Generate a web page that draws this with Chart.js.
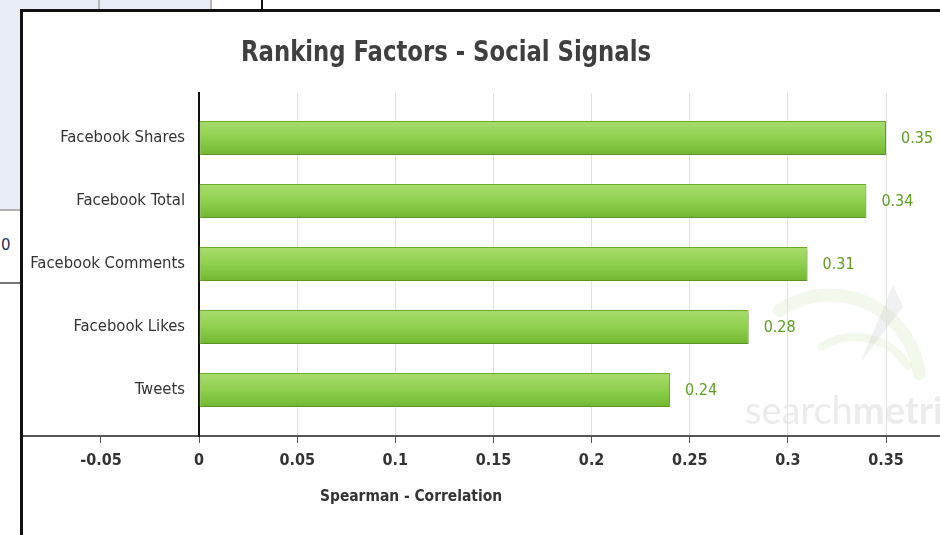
<!DOCTYPE html>
<html>
<head>
<meta charset="utf-8">
<script src="https://cdn.jsdelivr.net/npm/chart.js@4/dist/chart.umd.min.js"></script>
<style>
  body { margin: 0; width: 940px; height: 535px; position: relative; overflow: hidden; background: #fff; }
  .bg { position: absolute; }
  #frame { position: absolute; left: 20px; top: 9px; width: 930px; height: 540px; border-left: 3px solid #111; border-top: 3px solid #111; }
  #wrap { position: absolute; left: 23px; top: 12px; width: 917px; height: 523px; }
</style>
</head>
<body>
<!-- bits of the page behind the screenshot -->
<div class="bg" style="left:0;top:0;width:211px;height:9px;background:#e9edf5"></div>
<div class="bg" style="left:98px;top:0;width:2px;height:9px;background:#b8b8b8"></div>
<div class="bg" style="left:210px;top:0;width:2px;height:9px;background:#b8b8b8"></div>
<div class="bg" style="left:261px;top:0;width:2px;height:9px;background:#111"></div>
<div class="bg" style="left:0;top:0;width:20px;height:210px;background:#e9edf5"></div>
<div class="bg" style="left:0;top:209px;width:20px;height:2px;background:#b0b0b0"></div>
<div class="bg" style="left:1px;top:236px;font:15px 'DejaVu Sans';color:#2a3050">0</div>
<div class="bg" style="left:0;top:282px;width:20px;height:2px;background:#777"></div>
<div id="frame"></div>
<div id="wrap"><canvas id="chart"></canvas></div>
<script>
const categories = ['Facebook Shares', 'Facebook Total', 'Facebook Comments', 'Facebook Likes', 'Tweets'];
const correlation = [0.35, 0.34, 0.31, 0.28, 0.24];
const xTicks = [-0.05, 0, 0.05, 0.1, 0.15, 0.2, 0.25, 0.3, 0.35];

const titleText = 'Ranking Factors - Social Signals';
const xTitleText = 'Spearman - Correlation';

function barFill(c) {
  let y = c.chart.scales.y;
  let mid = y ? y.getPixelForValue(c.dataIndex) : NaN;
  if (!isFinite(mid)) return '#8fd04f';
  let g = c.chart.ctx.createLinearGradient(0, mid - 17, 0, mid + 17);
  g.addColorStop(0, '#a8dd6c');
  g.addColorStop(0.5, '#8fd04f');
  g.addColorStop(1, '#72b730');
  return g;
}

const extras = {
  id: 'extras',
  beforeDraw(chart) {
    let ctx = chart.ctx;
    ctx.save();
    // searchmetrics watermark
    ctx.lineCap = 'round';
    ctx.strokeStyle = 'rgba(150,200,90,0.12)';
    ctx.lineWidth = 13;
    ctx.beginPath();
    ctx.arc(807, 373, 90, Math.PI * 1.31, Math.PI * 1.96);
    ctx.stroke();
    ctx.lineWidth = 8;
    ctx.beginPath();
    ctx.arc(832, 388, 63, Math.PI * 1.32, Math.PI * 1.82);
    ctx.stroke();
    ctx.fillStyle = 'rgba(160,165,175,0.16)';
    ctx.beginPath();
    ctx.moveTo(870, 273);
    ctx.lineTo(880, 295);
    ctx.lineTo(837, 351);
    ctx.closePath();
    ctx.fill();
    ctx.fillStyle = '#ececec';
    ctx.textBaseline = 'alphabetic';
    ctx.textAlign = 'left';
    ctx.font = '38px Lato';
    ctx.fillText('search', 722, 412);
    let w = ctx.measureText('search').width;
    ctx.font = 'bold 38px Lato';
    ctx.fillText('metrics', 722 + w, 412);
    ctx.restore();
  },
  beforeDatasetsDraw(chart) {
    let ctx = chart.ctx;
    ctx.save();
    ctx.shadowColor = 'rgba(0,0,0,0.2)';
    ctx.shadowBlur = 3;
    ctx.shadowOffsetX = 1;
    ctx.shadowOffsetY = 2;
  },
  afterDatasetsDraw(chart) {
    let ctx = chart.ctx;
    ctx.restore();
    ctx.save();
    ctx.fillStyle = '#5f9e22';
    ctx.font = '16px "DejaVu Sans Condensed"';
    ctx.textAlign = 'left';
    ctx.textBaseline = 'middle';
    chart.getDatasetMeta(0).data.forEach((bar, i) => {
      ctx.fillText(String(correlation[i]), bar.x + 15, bar.y + 1);
    });
    // category labels, left of the zero line
    let x0 = chart.scales.x.getPixelForValue(0);
    ctx.fillStyle = '#333';
    ctx.font = '16.5px "DejaVu Sans Condensed"';
    ctx.textAlign = 'right';
    categories.forEach((c, i) => {
      ctx.fillText(c, x0 - 14, chart.scales.y.getPixelForValue(i));
    });
    ctx.restore();
  },
  afterDraw(chart) {
    let ctx = chart.ctx;
    ctx.save();
    ctx.fillStyle = '#3f3f3f';
    ctx.textAlign = 'center';
    ctx.textBaseline = 'middle';
    ctx.font = 'bold 29px "DejaVu Sans Condensed"';
    ctx.fillText(titleText, 423, 41, 410);
    ctx.font = 'bold 16px "DejaVu Sans Condensed"';
    ctx.fillStyle = '#333';
    ctx.fillText(xTitleText, 388, 485, 182);
    ctx.restore();
  }
};

new Chart(document.getElementById('chart').getContext('2d'), {
  type: 'bar',
  data: {
    datasets: [{
      label: 'Spearman - Correlation',
      data: categories.map((c, i) => ({ x: correlation[i], y: i })),
      backgroundColor: barFill,
      borderColor: '#6aab2c',
      borderWidth: 1,
      borderSkipped: false,
      barPercentage: 0.54,
      categoryPercentage: 1
    }]
  },
  options: {
    indexAxis: 'y',
    responsive: true,
    maintainAspectRatio: false,
    animation: false,
    layout: { padding: { top: 81, left: 0, right: 0, bottom: 0 } },
    plugins: {
      legend: { display: false },
      tooltip: { enabled: false }
    },
    scales: {
      x: {
        type: 'linear',
        min: -0.0897,
        max: 0.3775,
        afterBuildTicks: s => { s.ticks = xTicks.map(v => ({ value: v })); },
        afterFit: s => { s.height = 99; },
        ticks: {
          callback: v => String(v),
          color: '#333',
          padding: 8,
          maxRotation: 0,
          font: { family: '"DejaVu Sans Condensed"', size: 16, weight: 'bold' }
        },
        grid: {
          color: c => (c.tick && c.tick.value > 0 ? '#e2e2e2' : 'rgba(0,0,0,0)'),
          tickColor: '#555',
          tickLength: 7,
          lineWidth: 1
        },
        border: { color: '#555', width: 2 }
      },
      y: {
        type: 'linear',
        reverse: true,
        offset: false,
        min: -0.714,
        max: 4.73,
        position: { x: 0 },
        afterBuildTicks: s => { s.ticks = categories.map((c, i) => ({ value: i })); },
        ticks: { display: false },
        grid: { display: false, drawTicks: false },
        border: { color: '#111', width: 2 }
      }
    }
  },
  plugins: [extras]
});
</script>
</body>
</html>
